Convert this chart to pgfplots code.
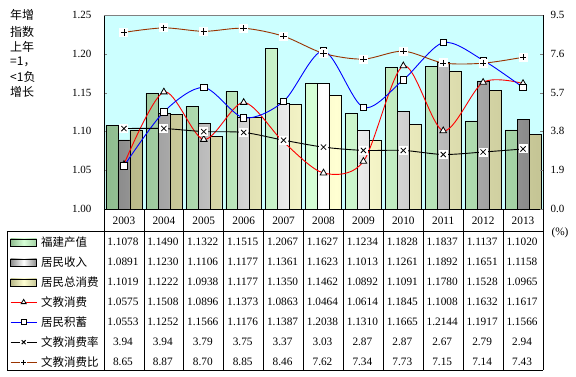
\documentclass[border=0pt]{standalone}
\usepackage{fontspec}
\setmainfont{Liberation Serif}
\newfontfamily\cjk{Noto Sans CJK SC}
\usepackage{pgfplots}
\usepackage{pgfplotstable}
\pgfplotsset{compat=1.18}
\definecolor{bgc}{HTML}{CCFFFF}
\definecolor{gA}{HTML}{8FBC8F}\definecolor{gB}{HTML}{D6FFD6}\definecolor{gC}{HTML}{A3D1A3}
\definecolor{sA}{HTML}{8C8C8C}\definecolor{sB}{HTML}{FFFFFF}\definecolor{sC}{HTML}{8A8A8A}
\definecolor{yA}{HTML}{B8B888}\definecolor{yB}{HTML}{FFFFD2}\definecolor{yC}{HTML}{C4C494}
\definecolor{brn}{HTML}{993300}
\tikzset{
  gbar/.style={draw=black, left color=gA, right color=gC, middle color=gB},
  sbar/.style={draw=black, left color=sA, right color=sC, middle color=sB},
  ybarst/.style={draw=black, left color=yA, right color=yC, middle color=yB},
}
\pgfdeclareplotmark{wbx}{%
  \pgfscope\pgfsetfillcolor{white}%
  \pgfpathrectangle{\pgfpoint{-4.5pt}{-4.5pt}}{\pgfpoint{9pt}{9pt}}\pgfusepath{fill}%
  \endpgfscope
  \pgfpathmoveto{\pgfpoint{-2.6pt}{-2.6pt}}\pgfpathlineto{\pgfpoint{2.6pt}{2.6pt}}%
  \pgfpathmoveto{\pgfpoint{-2.6pt}{2.6pt}}\pgfpathlineto{\pgfpoint{2.6pt}{-2.6pt}}%
  \pgfusepathqstroke}
\pgfdeclareplotmark{wbp}{%
  \pgfscope\pgfsetfillcolor{white}%
  \pgfpathrectangle{\pgfpoint{-4.5pt}{-4.5pt}}{\pgfpoint{9pt}{9pt}}\pgfusepath{fill}%
  \endpgfscope
  \pgfpathmoveto{\pgfpoint{-3.2pt}{0pt}}\pgfpathlineto{\pgfpoint{3.2pt}{0pt}}%
  \pgfpathmoveto{\pgfpoint{0pt}{3.2pt}}\pgfpathlineto{\pgfpoint{0pt}{-3.2pt}}%
  \pgfusepathqstroke}
\pgfplotstableread{
x year fj inc cons edu sav rate ratio
0 2003 1.1078 1.0891 1.1019 1.0575 1.0553 3.94 8.65
1 2004 1.1490 1.1230 1.1222 1.1508 1.1252 3.94 8.87
2 2005 1.1322 1.1106 1.0938 1.0896 1.1566 3.79 8.70
3 2006 1.1515 1.1177 1.1177 1.1373 1.1176 3.75 8.85
4 2007 1.2067 1.1361 1.1350 1.0863 1.1387 3.37 8.46
5 2008 1.1627 1.1623 1.1462 1.0464 1.2038 3.03 7.62
6 2009 1.1234 1.1013 1.0892 1.0614 1.1310 2.87 7.34
7 2010 1.1828 1.1261 1.1091 1.1845 1.1665 2.87 7.73
8 2011 1.1837 1.1892 1.1780 1.1008 1.2144 2.67 7.15
9 2012 1.1137 1.1651 1.1528 1.1632 1.1917 2.79 7.14
10 2013 1.1020 1.1158 1.0965 1.1617 1.1566 2.94 7.43
}\datatable
\newcommand\numfont{\fontsize{11.3}{12}\selectfont}
\begin{document}
\begin{tikzpicture}
\useasboundingbox (-104pt,-167pt) rectangle (472pt,209pt);
\begin{axis}[
  at={(0pt,0pt)}, anchor=south west, scale only axis, width=439pt, height=194pt,
  xmin=-0.5, xmax=10.5, ymin=1, ymax=1.25,
  axis background/.style={fill=bgc},
  axis line style={line width=0.8pt},
  xtick={0,...,10}, xticklabels={2003,2004,2005,2006,2007,2008,2009,2010,2011,2012,2013},
  xtick style={draw=none},
  ytick={1,1.05,1.1,1.15,1.2,1.25}, ytick pos=left, tick align=inside, major tick length=3pt,
  yticklabel style={/pgf/number format/.cd, fixed, fixed zerofill, precision=2, assume math mode=true, /tikz/.cd, font=\fontsize{11}{12}\selectfont, xshift=-9pt},
  xticklabel style={font=\numfont, yshift=-4.5pt},
  legend cell align=left,
  legend style={at={(axis description cs:-0.2141,-0.1186)}, anchor=north west, draw=none, fill=none, inner sep=0pt, row sep=0pt,
    nodes={inner ysep=0pt, inner xsep=4pt, text height=14pt, text depth=6pt, font=\cjk\fontsize{11.5}{12}\selectfont}},
  legend image code/.code={\draw[mark repeat=2,mark phase=2,#1,every mark/.append style={scale=0.75}] plot coordinates {(0pt,0pt) (13pt,0pt) (26pt,0pt)};},
]
\addplot[ybar, bar width=0.3, bar shift=-0.3, gbar, legend image code/.code={\draw[gbar] (0pt,-3.5pt) rectangle (26pt,3.5pt);}] table[x=x,y=fj] {\datatable};
\addplot[ybar, bar width=0.3, bar shift=0, sbar, legend image code/.code={\draw[sbar] (0pt,-3.5pt) rectangle (26pt,3.5pt);}] table[x=x,y=inc] {\datatable};
\addplot[ybar, bar width=0.3, bar shift=0.3, ybarst, legend image code/.code={\draw[ybarst] (0pt,-3.5pt) rectangle (26pt,3.5pt);}] table[x=x,y=cons] {\datatable};
\addplot[red, line width=0.9pt, smooth, mark=triangle*, mark size=3.8pt, mark options={fill=white, draw=black, line width=0.8pt}] table[x=x,y=edu] {\datatable};
\addplot[blue, line width=0.9pt, smooth, mark=square*, mark size=3.2pt, mark options={fill=white, draw=black, line width=0.8pt}] table[x=x,y=sav] {\datatable};
\addlegendimage{black, line width=0.9pt, mark=wbx}
\addlegendimage{brn, line width=0.9pt, mark=wbp, mark options={black}}
\legend{福建产值,居民收入,居民总消费,文教消费,居民积蓄,文教消费率,文教消费比}
\end{axis}
\begin{axis}[
  at={(0pt,0pt)}, anchor=south west, scale only axis, width=439pt, height=194pt,
  xmin=-0.5, xmax=10.5, ymin=0, ymax=9.5,
  axis x line=none, axis y line*=right,
  axis line style={line width=0.8pt},
  ytick={0,1.9,3.8,5.7,7.6,9.5}, tick align=inside, major tick length=3pt,
  yticklabel style={/pgf/number format/.cd, fixed, fixed zerofill, precision=1, assume math mode=true, /tikz/.cd, font=\fontsize{11}{12}\selectfont, xshift=4pt},
]
\addplot[black, line width=0.9pt, smooth, mark=wbx, mark options={black, line width=0.8pt}] table[x=x,y=rate] {\datatable};
\addplot[brn, line width=0.9pt, smooth, mark=wbp, mark options={black, line width=0.8pt}] table[x=x,y=ratio] {\datatable};
\end{axis}
% top border gray
\draw[line width=1pt, color=gray] (0pt,194pt) -- (439pt,194pt);
% table grid
\draw[line width=0.8pt] (-97pt,-22pt) -- (439pt,-22pt);
\draw[line width=0.8pt] (-97pt,-161pt) -- (439pt,-161pt);
\draw[line width=0.8pt] (-97pt,-22pt) -- (-97pt,-161pt);
\foreach \i in {0,...,11} \draw[line width=0.8pt] ({39.909pt*\i},0pt) -- ({39.909pt*\i},-161pt);
% table values
\foreach \r in {0,...,10}{
  \foreach \c [count=\k from 0] in {fj,inc,cons,edu,sav,rate,ratio}{
    \pgfplotstablegetelem{\r}{\c}\of\datatable
    \node[font=\numfont, inner sep=0pt] at ({39.909pt*(\r+0.5)-1pt},{-33pt-20pt*\k}) {\pgfplotsretval};
  }
}
% y label
\begin{scope}[every node/.style={anchor=west, inner sep=0pt, font=\cjk\fontsize{12}{13}\selectfont}]
\node at (-94pt,194pt) {年增};
\node at (-94pt,177pt) {指数};
\node at (-94pt,162pt) {上年};
\node at (-94pt,147pt) {=1，};
\node at (-94pt,132pt) {<1负};
\node at (-94pt,117pt) {增长};
\end{scope}
\node[font=\numfont, inner sep=0pt] at (456pt,-24pt) {(\%)};
\end{tikzpicture}
\end{document}
